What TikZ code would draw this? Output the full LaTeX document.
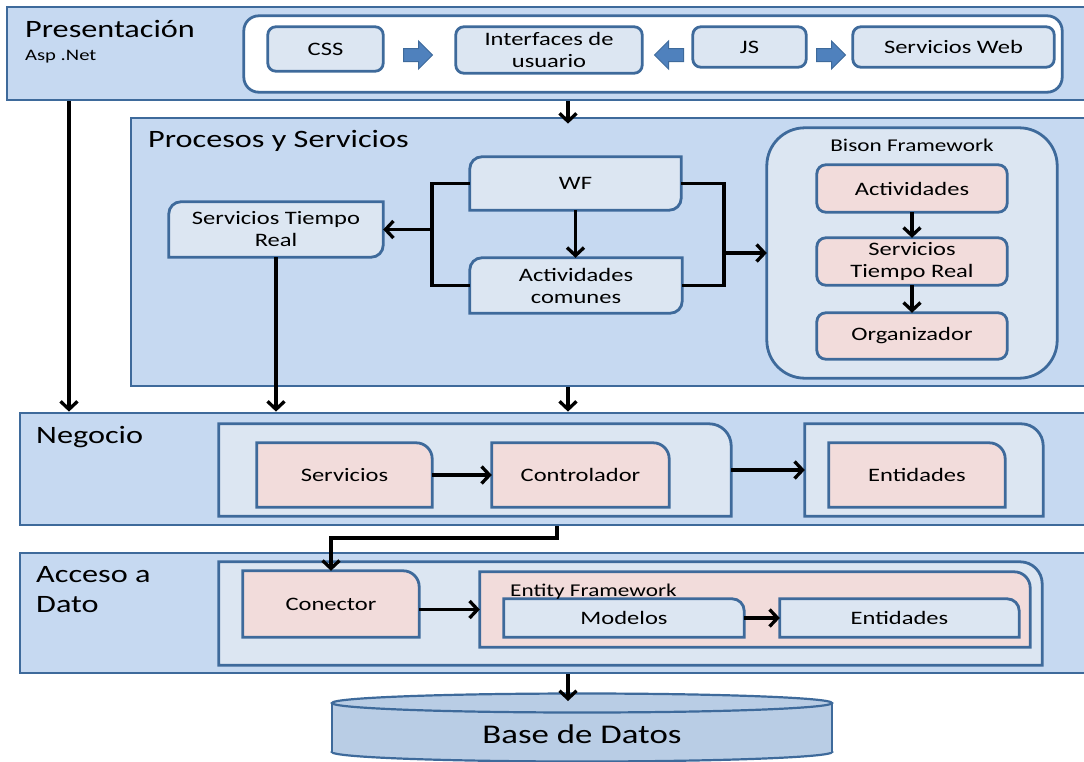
\documentclass[tikz,border=0pt]{standalone}
\usepackage{fontspec}
\setmainfont{Carlito}[FakeStretch=1.29]
\usetikzlibrary{calc,arrows.meta}

\pgfdeclarelayer{bands}
\pgfdeclarelayer{lvA}
\pgfdeclarelayer{lvB}
\pgfdeclarelayer{lvC}
\pgfsetlayers{bands,lvA,lvB,lvC,main}

\definecolor{bandfill}{HTML}{C6D9F1}
\definecolor{boxfill}{HTML}{DCE6F2}
\definecolor{pinkfill}{HTML}{F2DCDB}
\definecolor{edge}{HTML}{3E6A9B}
\definecolor{dbfill}{HTML}{B9CDE5}
\definecolor{blockarrow}{HTML}{4F81BD}

\newcommand\bxfont{\fontsize{19}{22}\selectfont}

% box outline around node #2 on layer #1, style #3, corner radii tl/tr/br/bl
\newcommand\cbox[7]{%
\begin{pgfonlayer}{#1}
\draw[#3]
 ($(#2.north west)+(0,#4)$) .. controls ($(#2.north west)+(0,0.448*#4)$) and ($(#2.north west)+(0.448*#4,0)$) .. ($(#2.north west)+(#4,0)$)
 -- ($(#2.north east)+(-#5,0)$) .. controls ($(#2.north east)+(-0.448*#5,0)$) and ($(#2.north east)+(0,0.448*#5)$) .. ($(#2.north east)+(0,#5)$)
 -- ($(#2.south east)+(0,-#6)$) .. controls ($(#2.south east)+(0,-0.448*#6)$) and ($(#2.south east)+(-0.448*#6,0)$) .. ($(#2.south east)+(-#6,0)$)
 -- ($(#2.south west)+(#7,0)$) .. controls ($(#2.south west)+(0.448*#7,0)$) and ($(#2.south west)+(0,-0.448*#7)$) .. ($(#2.south west)+(0,-#7)$)
 -- cycle;
\end{pgfonlayer}}

\tikzset{
  area/.style 2 args={inner sep=0pt, minimum width=#1pt, minimum height=#2pt},
  lbl/.style 2 args={area={#1}{#2}, align=center, font=\bxfont},
  band/.style={draw=edge, fill=bandfill, line width=2.8pt},
  boxline/.style={draw=edge, line width=2.8pt},
  ttl/.style={inner sep=0pt, font=\fontsize{25}{30}\selectfont},
  wire/.style={line width=3.3pt, black},
  arr/.style={wire, -{Straight Barb[length=8pt,width=17pt]}},
  blockR/.pic={\draw[fill=blockarrow, draw=edge, line width=1pt]
     (-14.5,-6.5) -- (0.5,-6.5) -- (0.5,-14) -- (14.5,0) -- (0.5,14)
     -- (0.5,6.5) -- (-14.5,6.5) -- cycle;}
}

\begin{document}
\begin{tikzpicture}[x=1pt,y=-1pt]
\useasboundingbox (0,0) rectangle (1084,761);

% layer bands
\begin{pgfonlayer}{bands}
\fill[white] (0,0) rectangle (1084,761);
\node[band, area={1088}{93}] (pres) at (551,53.5) {};
\node[band, area={964}{268}] (proc) at (613,252) {};
\node[band, area={1075}{112}] (neg) at (557.5,469) {};
\node[band, area={1075}{120}] (acc) at (557.5,613) {};
\end{pgfonlayer}

% band titles
\node[ttl, anchor=base west] (tpres) at (25,37) {Presentación};
\node[inner sep=0pt, anchor=base west, font=\fontsize{16}{18}\selectfont] (tasp) at (25,60) {Asp .Net};
\node[ttl, anchor=base west] (tproc) at (148,147) {Procesos y Servicios};
\node[ttl, anchor=base west] (tneg) at (36,443) {Negocio};
\node[ttl, anchor=west, align=left] (tacc) at (36,590) {Acceso a\\Dato};

% presentation layer
\node[lbl={818}{76}] (pweb) at (653,54) {};
\cbox{lvA}{pweb}{boxline, fill=white}{15}{15}{15}{15}
\node[lbl={115}{44}] (css) at (325.5,49) {CSS};
\cbox{lvB}{css}{boxline, fill=boxfill}{8}{8}{8}{8}
\node[lbl={186}{46}] (iu) at (549,50) {Interfaces de\\usuario};
\cbox{lvB}{iu}{boxline, fill=boxfill}{8}{8}{8}{8}
\node[lbl={113}{40}] (js) at (749.5,47) {JS};
\cbox{lvB}{js}{boxline, fill=boxfill}{8}{8}{8}{8}
\node[lbl={201}{40}] (sw) at (953.5,47) {Servicios Web};
\cbox{lvB}{sw}{boxline, fill=boxfill}{8}{8}{8}{8}
\pic at (418,55) {blockR};
\pic[xscale=-1] at (669,55) {blockR};
\pic at (831,55) {blockR};

% processes and services
\node[lbl={211}{53}] (wf) at (575.5,183.5) {WF};
\cbox{lvB}{wf}{boxline, fill=boxfill}{12}{0}{12}{0}
\node[lbl={212}{55}] (act) at (576,285.5) {Actividades\\comunes};
\cbox{lvB}{act}{boxline, fill=boxfill}{12}{0}{12}{0}
\node[lbl={214}{55}] (str) at (276,229.5) {Servicios Tiempo\\Real};
\cbox{lvB}{str}{boxline, fill=boxfill}{12}{0}{12}{0}
\node[lbl={290}{250}] (bison) at (912,253) {};
\cbox{lvA}{bison}{boxline, fill=boxfill}{38}{38}{38}{38}
\node[inner sep=0pt, font=\fontsize{18}{20}\selectfont] (tbison) at (912,145) {Bison Framework};
\node[lbl={190}{47}] (ba) at (912,188.5) {Actividades};
\cbox{lvB}{ba}{boxline, fill=pinkfill}{9}{9}{9}{9}
\node[lbl={190}{47}] (bs) at (912,261.5) {Servicios\\Tiempo Real};
\cbox{lvB}{bs}{boxline, fill=pinkfill}{9}{9}{9}{9}
\node[lbl={190}{46}] (bo) at (912,336) {Organizador};
\cbox{lvB}{bo}{boxline, fill=pinkfill}{9}{9}{9}{9}

% business layer
\node[lbl={512}{92}] (nc1) at (475,470) {};
\cbox{lvA}{nc1}{boxline, fill=boxfill}{0}{22}{0}{0}
\node[lbl={175}{64}] (nserv) at (344.5,475) {Servicios};
\cbox{lvB}{nserv}{boxline, fill=pinkfill}{0}{16}{0}{0}
\node[lbl={177}{64}] (nctrl) at (580.5,475) {Controlador};
\cbox{lvB}{nctrl}{boxline, fill=pinkfill}{0}{16}{0}{0}
\node[lbl={238}{92}] (nc2) at (924,470) {};
\cbox{lvA}{nc2}{boxline, fill=boxfill}{0}{22}{0}{0}
\node[lbl={176}{64}] (nent) at (917,475) {Entidades};
\cbox{lvB}{nent}{boxline, fill=pinkfill}{0}{16}{0}{0}

% data access layer
\node[lbl={823}{103}] (ac1) at (630.5,613.5) {};
\cbox{lvA}{ac1}{boxline, fill=boxfill}{0}{22}{0}{0}
\node[lbl={176}{66}] (conn) at (331,604) {Conector};
\cbox{lvB}{conn}{boxline, fill=pinkfill}{0}{16}{0}{0}
\node[lbl={550}{75}] (ef) at (755,609.5) {};
\cbox{lvB}{ef}{boxline, fill=pinkfill}{0}{16}{0}{0}
\node[inner sep=0pt, anchor=base west, font=\fontsize{18}{20}\selectfont] (tef) at (510,596) {Entity Framework};
\node[lbl={240}{38}] (mod) at (624,618) {Modelos};
\cbox{lvC}{mod}{boxline, fill=boxfill}{0}{12}{0}{0}
\node[lbl={239}{38}] (ent2) at (899.5,618) {Entidades};
\cbox{lvC}{ent2}{boxline, fill=boxfill}{0}{12}{0}{0}

% database cylinder
\draw[edge, fill=dbfill, line width=2.2pt] (582,752) ellipse [x radius=250, y radius=9.5];
\fill[dbfill] (332,703) rectangle (832,752);
\draw[edge, line width=2.2pt] (332,703) -- (332,752) (832,703) -- (832,752);
\draw[edge, fill=dbfill, line width=2.2pt] (582,703) ellipse [x radius=250, y radius=9.5];
\node[inner sep=0pt, anchor=base, font=\fontsize{27}{30}\selectfont] (tdb) at (582,743) {Base de Datos};
\coordinate (dbtop) at (568,701);

% connectors
\coordinate (xa) at (69,0);
\coordinate (xb) at (568,0);
\coordinate (xl) at (432,0);
\coordinate (xr) at (724,0);
\coordinate (xn) at (557,0);
\coordinate (ybend) at (0,538);

\draw[arr] (xa |- pres.south) -- (xa |- neg.north);
\draw[arr] (xb |- pres.south) -- ([yshift=-7pt]xb |- proc.north);
\draw[wire] (wf.west) -- (xl |- wf.west) -- (xl |- act.west) -- (act.west);
\draw[arr] (xl |- str.east) -- (str.east);
\draw[wire] (wf.east) -- (xr |- wf.east) -- (xr |- act.east) -- (act.east);
\draw[arr] (xr |- bison.west) -- (bison.west);
\draw[arr] (wf.south) -- (wf.south |- act.north);
\draw[arr] (str.south) -- (str.south |- neg.north);
\draw[arr] (xb |- proc.south) -- (xb |- neg.north);
\draw[arr] (ba.south) -- (bs.north);
\draw[arr] (bs.south) -- (bo.north);
\draw[arr] (nserv.east) -- (nctrl.west);
\draw[arr] (nc1.east) -- (nc2.west);
\draw[arr] (xn |- neg.south) -- (xn |- ybend) -- (conn.north |- ybend) -- (conn.north);
\draw[arr] (ef.west -| conn.east) -- (ef.west);
\draw[arr] (mod.east) -- (ent2.west);
\draw[arr] (xb |- acc.south) -- (dbtop);
\end{tikzpicture}
\end{document}
